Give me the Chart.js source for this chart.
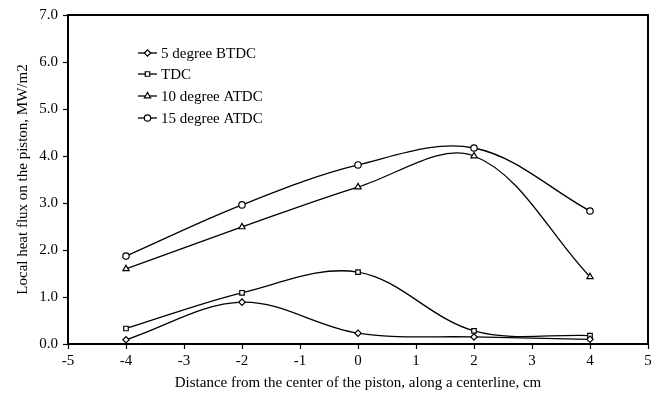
<!DOCTYPE html>
<html>
<head>
<meta charset="utf-8">
<script src="https://cdn.jsdelivr.net/npm/chart.js@4.4.1/dist/chart.umd.min.js"></script>
<style>
    html, body { margin: 0; padding: 0; background: #fff; }
    #wrap { width: 660px; height: 397px; position: relative; }
</style>
</head>
<body>
<div id="wrap"><canvas id="fluxChart" width="660" height="397"></canvas></div>
<script>
// ── Dados ──
const POSICOES = [-4, -2, 0, 2, 4];
const BTDC5    = [0.09, 0.89, 0.23, 0.15, 0.10];
const TDC      = [0.33, 1.09, 1.53, 0.28, 0.18];
const ATDC10   = [1.60, 2.49, 3.34, 4.00, 1.43];
const ATDC15   = [1.87, 2.96, 3.81, 4.17, 2.83];

const X_TICKS = [-5, -4, -3, -2, -1, 0, 1, 2, 3, 4, 5];
const Y_TICKS = [0, 1, 2, 3, 4, 5, 6, 7];

const FONTE = 'Liberation Serif, Times New Roman, serif';

const RAIOS = { rectRot: 3.2, rect: 3.2, triangle: 3.6, circle: 3.2 };

function serie(label, valores, estilo) {
    return {
        label,
        data: POSICOES.map((x, i) => ({ x, y: valores[i] })),
        borderColor: '#000',
        borderWidth: 1.3,
        backgroundColor: '#fff',
        pointStyle: estilo,
        pointRadius: RAIOS[estilo],
        pointBorderWidth: 1.2,
        pointBackgroundColor: '#fff',
        pointBorderColor: '#000',
        tension: 0.35,
        fill: false,
    };
}

// ── Moldura + legenda dentro da área ──
const molduraLegenda = {
    id: 'molduraLegenda',
    afterDraw(chart) {
        const { ctx, chartArea: a } = chart;
        ctx.save();
        ctx.strokeStyle = '#000';
        ctx.lineWidth = 2;
        ctx.strokeRect(a.left, a.top, a.right - a.left, a.bottom - a.top);

        const linhas = [53, 74, 96, 118];
        ctx.font = '15px ' + FONTE;
        ctx.textBaseline = 'middle';
        chart.data.datasets.forEach((ds, i) => {
            const y = linhas[i];
            ctx.beginPath();
            ctx.lineWidth = 1.3;
            ctx.moveTo(138, y);
            ctx.lineTo(157, y);
            ctx.stroke();
            ctx.fillStyle = '#fff';
            ctx.lineWidth = 1.2;
            if (Chart.helpers && Chart.helpers.drawPoint) {
                Chart.helpers.drawPoint(ctx, {
                    pointStyle: ds.pointStyle,
                    radius: ds.pointRadius,
                    rotation: 0,
                    borderWidth: 1.2,
                }, 147.5, y);
            }
            ctx.fillStyle = '#000';
            ctx.fillText(ds.label, 161, y + 1);
        });
        ctx.restore();
    }
};

new Chart(document.getElementById('fluxChart'), {
    type: 'line',
    data: {
        datasets: [
            serie('5 degree BTDC', BTDC5, 'rectRot'),
            serie('TDC', TDC, 'rect'),
            serie('10 degree ATDC', ATDC10, 'triangle'),
            serie('15 degree ATDC', ATDC15, 'circle'),
        ]
    },
    options: {
        responsive: false,
        animation: false,
        layout: { padding: { top: 15, right: 12, left: 0, bottom: 0 } },
        plugins: {
            legend: { display: false },
            tooltip: { enabled: false },
        },
        scales: {
            x: {
                type: 'linear',
                min: -5,
                max: 5,
                afterBuildTicks: s => { s.ticks = X_TICKS.map(v => ({ value: v })); },
                afterFit: s => { s.height = 53; },
                grid: { drawOnChartArea: false, color: '#000', tickLength: 5, tickWidth: 1.2 },
                border: { color: '#000', width: 2 },
                ticks: { color: '#000', font: { family: FONTE, size: 15 }, padding: 3, maxRotation: 0 },
                title: {
                    display: true,
                    text: 'Distance from the center of the piston, along a centerline, cm',
                    color: '#000',
                    font: { family: FONTE, size: 15 },
                    padding: { top: 0, bottom: 5 },
                },
            },
            y: {
                min: 0,
                max: 7,
                afterBuildTicks: s => { s.ticks = Y_TICKS.map(v => ({ value: v })); },
                afterFit: s => { s.width = 68; },
                grid: { drawOnChartArea: false, color: '#000', tickLength: 5, tickWidth: 1.2 },
                border: { color: '#000', width: 2 },
                ticks: {
                    color: '#000',
                    font: { family: FONTE, size: 15 },
                    padding: 5,
                    callback: v => v.toFixed(1),
                },
                title: {
                    display: true,
                    text: 'Local heat flux on the piston, MW/m2',
                    color: '#000',
                    font: { family: FONTE, size: 15 },
                    padding: { top: 14, bottom: 0 },
                },
            }
        }
    },
    plugins: [molduraLegenda]
});
</script>
</body>
</html>
